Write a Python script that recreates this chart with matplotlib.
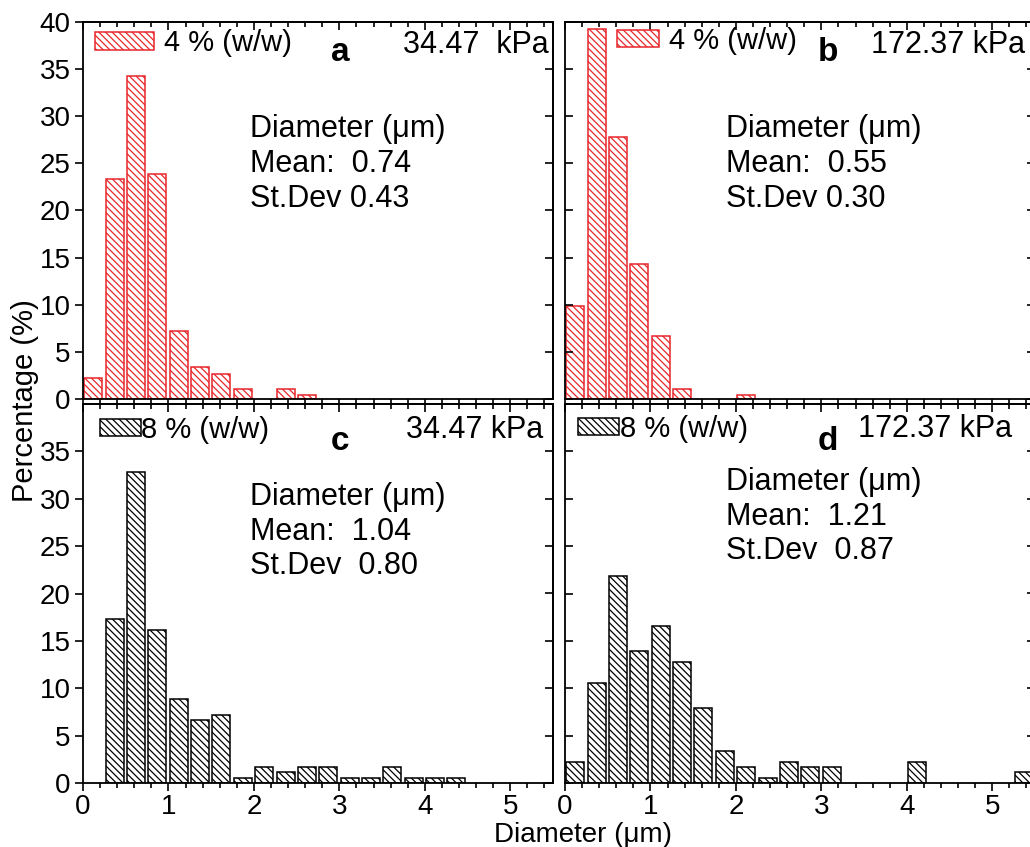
import numpy as np
import matplotlib
matplotlib.use("Agg")
import matplotlib.pyplot as plt
from matplotlib.ticker import MultipleLocator

plt.rcParams['font.family'] = ['Liberation Sans', 'DejaVu Sans']
plt.rcParams['hatch.linewidth'] = 0.9

# ------------------------------------------------------
# data (percentage per 0.25 um diameter bin)
bin_width = 0.25
bin_start = np.arange(0, 5.5, bin_width)

pct_a = [2.2, 23.3, 34.3, 23.9, 7.2, 3.4, 2.7, 1.1, 0, 1.1, 0.4]
pct_b = [9.9, 39.3, 27.8, 14.3, 6.7, 1.1, 0, 0, 0.4]
pct_c = [0, 17.3, 32.8, 16.1, 8.9, 6.7, 7.2, 0.5, 1.7, 1.2, 1.7, 1.7,
         0.5, 0.5, 1.7, 0.5, 0.5, 0.5]
pct_d = [2.2, 10.6, 21.8, 13.9, 16.6, 12.8, 7.9, 3.4, 1.7, 0.5, 2.2, 1.7,
         1.7, 0, 0, 0, 2.2, 0, 0, 0, 0, 1.2]

letters = ['a', 'b', 'c', 'd']
pressures = ['34.47  kPa', '172.37 kPa', '34.47 kPa', '172.37 kPa']
conc = ['4 % (w/w)', '4 % (w/w)', '8 % (w/w)', '8 % (w/w)']
means = ['0.74', '0.55', '1.04', '1.21']
stdevs = ['St.Dev 0.43', 'St.Dev 0.30', 'St.Dev  0.80', 'St.Dev  0.87']
colors = ['#e8262b', '#e8262b', 'black', 'black']
series = [pct_a, pct_b, pct_c, pct_d]

# ------------------------------------------------------
W, H = 1030, 847
fig = plt.figure(figsize=(W / 100, H / 100), dpi=100)

def px(left, top, right, bottom):
    return [left / W, 1 - bottom / H, (right - left) / W, (bottom - top) / H]

boxes = [px(83, 22, 553, 399), px(565, 22, 1035, 399),
         px(83, 404, 553, 783), px(565, 404, 1035, 783)]

# text placement per panel (axes fraction)
leg_pos = [(0.026, 0.944), (0.110, 0.950), (0.036, 0.932), (0.028, 0.935)]
leg_len = [2.0, 1.45, 1.4, 1.4]
leg_pad = [0.35, 0.35, 0.02, 0.02]
letter_pos = [(0.547, 0.918), (0.560, 0.918), (0.547, 0.900), (0.560, 0.900)]
kpa_pos = [(0.990, 0.938), (0.979, 0.938), (0.979, 0.931), (0.951, 0.934)]
stat_pos = [(0.355, 0.755), (0.343, 0.755), (0.355, 0.794), (0.343, 0.833)]

for i in range(4):
    ax = fig.add_axes(boxes[i])
    vals = np.array(series[i], dtype=float)
    x = bin_start[:len(vals)] + 0.12
    m = vals > 0
    bars = ax.bar(x[m], vals[m], width=0.21, facecolor='white',
                  edgecolor=colors[i], hatch='\\\\\\\\\\', linewidth=1.1)
    bars.set_label(conc[i])

    ax.set_xlim(0, 5.5)
    ax.set_ylim(0, 40)
    ax.xaxis.set_major_locator(MultipleLocator(1))
    ax.xaxis.set_minor_locator(MultipleLocator(0.2))
    ax.yaxis.set_major_locator(MultipleLocator(5))
    for s in ax.spines.values():
        s.set_linewidth(1.3)

    ax.tick_params(axis='x', which='both', direction='out', top=False,
                   labelsize=20, pad=2, width=1.2)
    ax.tick_params(axis='x', which='major', length=6)
    ax.tick_params(axis='x', which='minor', length=3.5)
    ax.tick_params(axis='y', which='major', direction='out', length=6,
                   width=1.2, labelsize=20, pad=3, right=False)
    # inward ticks on top and right edges
    sec_x = ax.secondary_xaxis('top')
    sec_x.xaxis.set_major_locator(MultipleLocator(1))
    sec_x.xaxis.set_minor_locator(MultipleLocator(0.2))
    sec_x.tick_params(which='both', direction='in', labeltop=False, width=1.2)
    sec_x.tick_params(which='major', length=6)
    sec_x.tick_params(which='minor', length=3.5)
    sec_x.spines['top'].set_linewidth(1.3)
    sec_y = ax.secondary_yaxis('right')
    sec_y.yaxis.set_major_locator(MultipleLocator(5))
    sec_y.tick_params(direction='in', length=6, width=1.2, labelright=False)
    sec_y.spines['right'].set_linewidth(1.3)

    if i < 2:
        ax.set_xticklabels([])
    if i % 2 == 1:
        ax.tick_params(axis='y', direction='in', labelleft=False)
    if i >= 2:
        ax.set_yticks(np.arange(0, 40, 5))

    ax.legend(handles=[bars], loc='center left', bbox_to_anchor=leg_pos[i],
              frameon=False, fontsize=21, borderpad=0, borderaxespad=0,
              handlelength=leg_len[i], handleheight=0.55,
              handletextpad=leg_pad[i])
    ax.text(*letter_pos[i], letters[i], transform=ax.transAxes, fontsize=24,
            fontweight='bold', ha='center', va='center')
    ax.text(*kpa_pos[i], pressures[i], transform=ax.transAxes, fontsize=22,
            ha='right', va='center')
    ax.text(*stat_pos[i], 'Diameter (μm)\nMean:  ' + means[i] + '\n' + stdevs[i],
            transform=ax.transAxes, fontsize=22, ha='left', va='top',
            linespacing=1.2)

fig.text(25 / W, 0.527, 'Percentage (%)', rotation=90, fontsize=21,
         ha='center', va='center')
fig.text(494 / W, 1 - 842 / H, 'Diameter (μm)', fontsize=20,
         ha='left', va='baseline')

fig.savefig('out.png', dpi=100)
